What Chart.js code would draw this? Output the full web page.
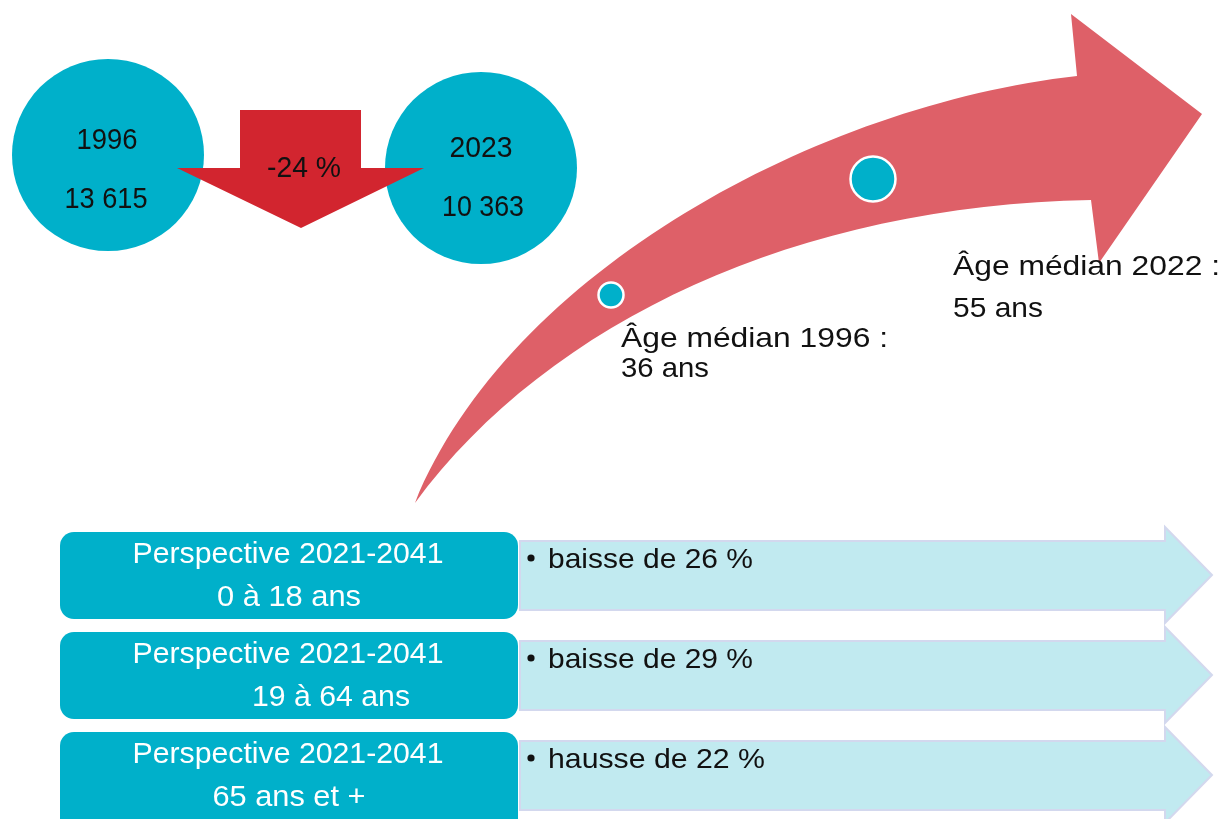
<!DOCTYPE html>
<html lang="fr">
<head>
<meta charset="utf-8">
<title>Population et âge médian</title>
<script src="https://cdn.jsdelivr.net/npm/chart.js@4.4.0/dist/chart.umd.min.js"></script>
<style>
  html, body { margin: 0; padding: 0; background: #ffffff; }
  #wrap { width: 1222px; height: 819px; position: relative; }
  canvas { display: block; }
</style>
</head>
<body>
<div id="wrap"><canvas id="c" width="1222" height="819"></canvas></div>
<script>
// ---------------- DATA ----------------
const populationYears = ['1996', '2023'];
const populationCounts = [13615, 10363];
const populationChangePct = -24;
const medianAgeYears = [1996, 2022];
const medianAges = [36, 55];
const perspectivePeriod = '2021-2041';
const ageGroups = ['0 à 18 ans', '19 à 64 ans', '65 ans et +'];
const groupChanges = [-26, -29, 22];

// ---------------- LAYOUT / STYLE ----------------
const W = 1222, H = 819;
const COLORS = {
  teal: '#00B0CA',
  red: '#D2252F',
  arrow: '#DE6068',
  light: '#C1EAF0',
  lightBorder: '#D3D8EE',
  text: '#111111',
  white: '#FFFFFF'
};
const FONT = '"Liberation Sans", Arial, sans-serif';
const popCirclePos = [{ x: 108, y: 155 }, { x: 481, y: 168 }];
const popCircleRadius = 96;
const ageDotPos = [{ x: 611, y: 295 }, { x: 873, y: 179 }];
const ageDotRadius = [12.5, 22.5];

function fmtNum(n) {
  return String(n).replace(/\B(?=(\d{3})+(?!\d))/g, ' ');
}
function fmtPct(n) {
  return (n < 0 ? '-' : '') + Math.abs(n) + ' %';
}

// text helper: draws text at a given font size, stretched horizontally to a target width
function fitText(ctx, text, x, y, size, width, align, color) {
  ctx.save();
  ctx.font = size + 'px ' + FONT;
  const m = ctx.measureText(text).width;
  const sx = width ? width / m : 1;
  ctx.translate(x, y);
  ctx.scale(sx, 1);
  ctx.textAlign = align;
  ctx.textBaseline = 'alphabetic';
  ctx.fillStyle = color;
  ctx.fillText(text, 0, 0);
  ctx.restore();
}

const decorPlugin = {
  id: 'decor',
  beforeDraw(chart) {
    const ctx = chart.ctx;
    ctx.save();
    ctx.fillStyle = '#ffffff';
    ctx.fillRect(0, 0, chart.width, chart.height);
    ctx.restore();
  },
  beforeDatasetsDraw(chart) {
    const ctx = chart.ctx;
    const xs = chart.scales.x, ys = chart.scales.y;
    const px = v => xs.getPixelForValue(v);
    const py = v => ys.getPixelForValue(v);

    // big curved arrow (age médian)
    ctx.save();
    ctx.fillStyle = COLORS.arrow;
    ctx.beginPath();
    ctx.moveTo(px(415), py(503));
    ctx.bezierCurveTo(px(510), py(270), px(820), py(105), px(1077), py(76));
    ctx.lineTo(px(1071), py(14));
    ctx.lineTo(px(1202), py(114));
    ctx.lineTo(px(1099), py(263));
    ctx.lineTo(px(1091), py(200));
    ctx.bezierCurveTo(px(800), py(205), px(550), py(320), px(415), py(503));
    ctx.closePath();
    ctx.fill();
    ctx.restore();

    // bottom: light arrows and teal boxes
    ageGroups.forEach((g, i) => {
      const off = 100 * i;
      ctx.save();
      ctx.fillStyle = COLORS.light;
      ctx.strokeStyle = COLORS.lightBorder;
      ctx.lineWidth = 2;
      ctx.beginPath();
      ctx.moveTo(px(520), py(541 + off));
      ctx.lineTo(px(1165), py(541 + off));
      ctx.lineTo(px(1165), py(527 + off));
      ctx.lineTo(px(1212), py(575 + off));
      ctx.lineTo(px(1165), py(623 + off));
      ctx.lineTo(px(1165), py(610 + off));
      ctx.lineTo(px(520), py(610 + off));
      ctx.closePath();
      ctx.fill();
      ctx.stroke();
      ctx.restore();

      ctx.save();
      ctx.fillStyle = COLORS.teal;
      ctx.beginPath();
      const x0 = px(60), x1 = px(518), y0 = py(532 + off), y1 = py(i === 2 ? 832 : 619 + off);
      ctx.roundRect(x0, y0, x1 - x0, y1 - y0, 14);
      ctx.fill();
      ctx.restore();
    });
  },
  afterDatasetsDraw(chart) {
    const ctx = chart.ctx;
    const xs = chart.scales.x, ys = chart.scales.y;
    const px = v => xs.getPixelForValue(v);
    const py = v => ys.getPixelForValue(v);

    // red down arrow between the two circles
    ctx.save();
    ctx.fillStyle = COLORS.red;
    ctx.beginPath();
    ctx.moveTo(px(240), py(110));
    ctx.lineTo(px(361), py(110));
    ctx.lineTo(px(361), py(168));
    ctx.lineTo(px(424), py(168));
    ctx.lineTo(px(301), py(228));
    ctx.lineTo(px(177), py(168));
    ctx.lineTo(px(240), py(168));
    ctx.closePath();
    ctx.fill();
    ctx.restore();

    // population texts
    fitText(ctx, populationYears[0], px(107), py(149), 30, 61, 'center', COLORS.text);
    fitText(ctx, fmtNum(populationCounts[0]), px(106), py(208), 30, 83, 'center', COLORS.text);
    fitText(ctx, populationYears[1], px(481), py(157), 30, 63, 'center', COLORS.text);
    fitText(ctx, fmtNum(populationCounts[1]), px(483), py(216), 30, 82, 'center', COLORS.text);
    fitText(ctx, fmtPct(populationChangePct), px(304), py(177), 30, 74, 'center', COLORS.text);

    // median age texts
    fitText(ctx, 'Âge médian ' + medianAgeYears[0] + ' :', px(621), py(347), 28, 267, 'left', COLORS.text);
    fitText(ctx, medianAges[0] + ' ans', px(621), py(377), 28, 88, 'left', COLORS.text);
    fitText(ctx, 'Âge médian ' + medianAgeYears[1] + ' :', px(953), py(275), 28, 267, 'left', COLORS.text);
    fitText(ctx, medianAges[1] + ' ans', px(953), py(317), 28, 90, 'left', COLORS.text);

    // bottom texts
    const groupCenters = [289, 331, 289];
    const groupWidths = [144, 158, 153];
    ageGroups.forEach((g, i) => {
      const off = 100 * i;
      fitText(ctx, 'Perspective ' + perspectivePeriod, px(288), py(563 + off), 29, 311, 'center', COLORS.white);
      fitText(ctx, g, px(groupCenters[i]), py(606 + off), 29, groupWidths[i], 'center', COLORS.white);
      const v = groupChanges[i];
      const word = v < 0 ? 'baisse' : 'hausse';
      const label = word + ' de ' + Math.abs(v) + ' %';
      ctx.save();
      ctx.fillStyle = COLORS.text;
      ctx.beginPath();
      ctx.arc(px(531), py(558 + off), 3.6, 0, Math.PI * 2);
      ctx.fill();
      ctx.restore();
      fitText(ctx, label, px(548), py(568 + off), 28, v < 0 ? 205 : 217, 'left', COLORS.text);
    });
  }
};

const chart = new Chart(document.getElementById('c'), {
  type: 'scatter',
  data: {
    datasets: [
      {
        label: 'Âge médian',
        data: medianAges.map((a, i) => ({ x: ageDotPos[i].x, y: ageDotPos[i].y, age: a, year: medianAgeYears[i] })),
        pointRadius: ageDotRadius,
        pointHoverRadius: ageDotRadius,
        backgroundColor: COLORS.teal,
        borderColor: COLORS.white,
        borderWidth: 2.5,
        clip: false,
        order: 1
      },
      {
        label: 'Population',
        data: populationCounts.map((c, i) => ({ x: popCirclePos[i].x, y: popCirclePos[i].y, count: c, year: populationYears[i] })),
        pointRadius: popCircleRadius,
        pointHoverRadius: popCircleRadius,
        backgroundColor: COLORS.teal,
        borderWidth: 0,
        clip: false,
        order: 2
      }
    ]
  },
  options: {
    responsive: false,
    animation: false,
    events: [],
    layout: { padding: 0, autoPadding: false },
    scales: {
      x: { type: 'linear', min: 0, max: W, display: false },
      y: { type: 'linear', min: 0, max: H, reverse: true, display: false }
    },
    plugins: {
      legend: { display: false },
      tooltip: { enabled: false },
      title: { display: false }
    }
  },
  plugins: [decorPlugin]
});
</script>
</body>
</html>
